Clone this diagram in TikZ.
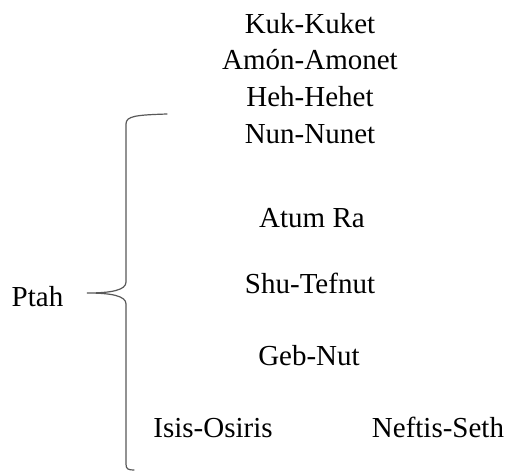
\documentclass[tikz,border=0pt]{standalone}
\usepackage{fontspec}
\setmainfont{Liberation Serif}
\begin{document}
\begin{tikzpicture}[x=1pt,y=-1pt,
  lbl/.style={anchor=base,inner sep=0pt,font=\fontsize{29}{34}\selectfont,text=black},
  bracestyle/.style={draw=black!65,line width=1.2pt,line cap=round}]
\useasboundingbox[fill=white] (0,0) rectangle (510,471);
\node[lbl] (kuk) at (310,33) {Kuk-Kuket};
\node[lbl] (amon) at (310,69) {Amón-Amonet};
\node[lbl] (heh) at (310,106) {Heh-Hehet};
\node[lbl] (nun) at (310,143) {Nun-Nunet};
\node[lbl] (atum) at (312,227) {Atum Ra};
\node[lbl] (shu) at (310,293) {Shu-Tefnut};
\node[lbl] (geb) at (309,365) {Geb-Nut};
\node[lbl] (isis) at (213,437) {Isis-Osiris};
\node[lbl] (neftis) at (438,437) {Neftis-Seth};
\node[lbl] (ptah) at (37.5,306) {Ptah};
\coordinate (btop) at (167,114);
\coordinate (btip) at (87,293);
\coordinate (bbot) at (134,470);
\draw[bracestyle] (btop) .. controls (136,115) and (126,116) .. (126,124)
  -- (126,282) .. controls (126,290) and (112,293) .. (btip)
  .. controls (112,293) and (126,296) .. (126,304)
  -- (126,464) .. controls (126,469) and (128,470) .. (bbot);
\end{tikzpicture}
\end{document}
